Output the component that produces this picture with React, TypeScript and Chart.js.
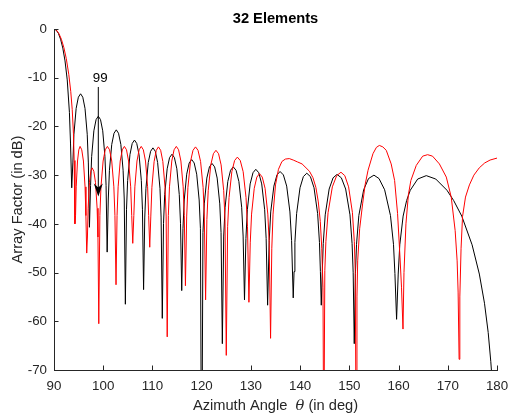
import React, { useEffect, useRef } from "react";
import { Chart, registerables } from "chart.js";

Chart.register(...registerables);

// ---- data ----
const chartTitle = "32 Elements";
const xTitleParts = ["Azimuth Angle  ", "\u03b8", " (in deg)"];
const yTitle = "Array Factor (in dB)";

const xTicks = [90, 100, 110, 120, 130, 140, 150, 160, 170, 180];
const yTicks = [0, -10, -20, -30, -40, -50, -60, -70];

// black series (uniform array): angle (deg) and level (dB)
const blackAngle = [
  90, 90.45, 90.9, 91.34, 91.79, 92.24, 92.69, 93.13, 93.36, 93.6,
  93.83, 94.05, 94.5, 94.95, 95.4, 95.85, 96.3, 96.75, 96.98, 97.2,
  97.43, 97.65, 98.1, 98.55, 99.0, 99.45, 99.9, 100.35, 100.58, 100.8,
  101.03, 101.26, 101.73, 102.19, 102.65, 103.11, 103.58, 104.04, 104.27, 104.5,
  104.73, 104.96, 105.43, 105.89, 106.35, 106.81, 107.28, 107.74, 107.97, 108.2,
  108.44, 108.68, 109.15, 109.63, 110.1, 110.58, 111.05, 111.53, 111.76, 112.0,
  112.25, 112.49, 112.99, 113.48, 113.97, 114.46, 114.96, 115.45, 115.7, 115.95,
  116.2, 116.46, 116.96, 117.47, 117.97, 118.48, 118.99, 119.49, 119.75, 120.0,
  120.26, 120.53, 121.05, 121.58, 122.1, 122.63, 123.15, 123.68, 123.94, 124.2,
  124.48, 124.76, 125.31, 125.87, 126.42, 126.99, 127.56, 128.13, 128.42, 128.7,
  128.99, 129.28, 129.85, 130.43, 131.0, 131.6, 132.2, 132.8, 133.1, 133.4,
  133.72, 134.03, 134.67, 135.3, 135.93, 136.6, 137.27, 137.93, 138.27, 138.6,
  138.77, 138.94, 139.29, 139.98, 140.66, 141.35, 142.09, 142.83, 143.56, 143.93, 144.12, 144.3,
  144.5, 144.7, 145.1, 145.9, 146.7, 147.5, 148.38, 149.25, 150.13, 150.56, 150.78, 151.0,
  151.24, 151.46, 151.93, 152.91, 153.9, 155.0, 156.03, 157.17, 158.36, 158.97, 159.26, 159.6,
  159.93, 160.25, 160.93, 161.64, 162.38, 163.89, 165.63, 167.56, 169.83, 171.19, 172.84,
  174.94, 176.41, 177.46, 178.21, 178.74, 179.3, 180,
];
const blackLevel = [
  0, -0.22, -0.91, -2.11, -3.92, -6.55, -10.45, -17.1, -23.6, -32.6,
  -27.5, -21.6, -16.3, -14.0, -13.3, -14.0, -16.3, -21.6, -27.5, -40.7,
  -32.1, -26.2, -20.9, -18.6, -17.9, -18.6, -20.9, -26.2, -32.1, -45.8,
  -34.9, -29.0, -23.7, -21.4, -20.7, -21.4, -23.7, -29.0, -34.9, -56.5,
  -37.0, -31.1, -25.8, -23.5, -22.8, -23.5, -25.8, -31.1, -37.0, -53.5,
  -38.6, -32.7, -27.4, -25.1, -24.4, -25.1, -27.4, -32.7, -38.6, -59.4,
  -39.9, -34.0, -28.7, -26.4, -25.7, -26.4, -28.7, -34.0, -39.9, -53.7,
  -41.0, -35.1, -29.8, -27.5, -26.8, -27.5, -29.8, -35.1, -41.0, -100,
  -41.8, -35.9, -30.6, -28.3, -27.6, -28.3, -30.6, -35.9, -41.8, -64.6,
  -42.5, -36.6, -31.3, -29.0, -28.3, -29.0, -31.3, -36.6, -42.5, -55.6,
  -43.0, -37.1, -31.8, -29.5, -28.8, -29.5, -31.8, -37.1, -43.0, -56.7,
  -43.45, -37.55, -32.25, -29.95, -29.25, -29.95, -32.25, -37.55, -43.45, -55.2,
  -49.8, -43.8, -37.9, -32.6, -30.3, -29.6, -30.3, -32.6, -37.9, -43.8, -49.8, -56.7,
  -50.05, -44.05, -38.15, -32.85, -30.55, -29.85, -30.55, -32.85, -38.15, -44.05, -50.05, -64.6,
  -50.2, -44.2, -38.3, -33.0, -30.7, -30.0, -30.7, -33.0, -38.3, -44.2, -50.2, -59.6,
  -50.3, -44.3, -38.4, -35.2, -33.1, -30.8, -30.1, -30.8, -33.1, -35.2, -38.4,
  -44.3, -50.3, -56.3, -62.3, -68.3, -76, -100,
];

// red series: angle (deg) and level (dB)
const redAngle = [
  90, 90.5, 91, 91.5, 92, 92.5, 93, 93.4, 93.7, 93.95, 94.1, 94.25,
  94.38, 94.51, 94.78, 95.04, 95.3, 95.64, 95.98, 96.31, 96.48, 96.65,
  96.79, 96.93, 97.2, 97.48, 97.75, 98.09, 98.43, 98.76, 98.93, 99.1,
  99.32, 99.54, 99.98, 100.41, 100.85, 101.29, 101.73, 102.16, 102.38, 102.6,
  102.81, 103.03, 103.45, 103.88, 104.3, 104.73, 105.15, 105.58, 105.79, 106.0,
  106.22, 106.43, 106.86, 107.29, 107.72, 108.15, 108.59, 109.02, 109.23, 109.45,
  109.67, 109.89, 110.34, 110.78, 111.22, 111.67, 112.11, 112.56, 112.78, 113.0,
  113.23, 113.46, 113.93, 114.39, 114.85, 115.31, 115.78, 116.24, 116.47, 116.7,
  116.96, 117.21, 117.73, 118.24, 118.75, 119.26, 119.78, 120.29, 120.54, 120.8,
  121.06, 121.33, 121.85, 122.38, 122.9, 123.43, 123.95, 124.48, 124.74, 125.0,
  125.28, 125.56, 126.13, 126.69, 127.25, 127.84, 128.43, 129.01, 129.31, 129.6,
  129.87, 130.14, 130.68, 131.21, 131.75, 132.31, 132.88, 133.44, 133.72, 134.0,
  134.25, 134.5, 135.0, 135.6, 136.3, 137.0, 137.8, 138.6, 139.5, 140.4, 141.2,
  141.9, 142.6, 143.2, 143.7, 144.1, 144.4, 144.65, 144.8,
  145.02, 145.24, 145.68, 146.55, 147.43, 148.3, 149.08, 149.85, 150.63, 151.01, 151.2, 151.4,
  151.55, 151.7, 152.1, 152.7, 153.2, 153.8, 154.8, 155.5, 156.1, 156.8, 157.5, 158.5,
  159.2, 159.8, 160.3, 160.6, 160.9,
  161.1, 161.5, 162.0, 162.5, 163.6, 164.9, 165.9, 166.9, 168.3, 169.7, 170.7, 171.5,
  171.9, 172.1, 172.3,
  172.45, 172.7, 173.0, 173.6, 174.4, 175.3, 176.4, 177.5, 178.6, 180,
];
const redLevel = [
  0, -0.25, -0.95, -2.1, -3.8, -6.1, -9.3, -12.8, -16.5, -21.5, -27, -40,
  -38.3, -32.4, -27.1, -24.8, -24.1, -24.8, -27.1, -32.4, -38.3, -46,
  -42.7, -36.8, -31.5, -29.2, -28.5, -29.2, -31.5, -36.8, -42.7, -60.5,
  -38.3, -32.4, -27.1, -24.8, -24.1, -24.8, -27.1, -32.4, -38.3, -52.5,
  -38.3, -32.4, -27.1, -24.8, -24.1, -24.8, -27.1, -32.4, -38.3, -44,
  -38.3, -32.4, -27.1, -24.8, -24.1, -24.8, -27.1, -32.4, -38.3, -44.8,
  -38.4, -32.5, -27.2, -24.9, -24.2, -24.9, -27.2, -32.5, -38.4, -63.2,
  -38.3, -32.4, -27.1, -24.8, -24.1, -24.8, -27.1, -32.4, -38.3, -52.7,
  -38.4, -32.5, -27.2, -24.9, -24.2, -24.9, -27.2, -32.5, -38.4, -55.6,
  -39.1, -33.2, -27.9, -25.6, -24.9, -25.6, -27.9, -33.2, -39.1, -67,
  -40.5, -34.6, -29.3, -27.0, -26.3, -27.0, -29.3, -34.6, -40.5, -56.1,
  -43.9, -38.0, -32.7, -30.4, -29.7, -30.4, -32.7, -38.0, -43.9, -63.5,
  -45, -38, -32, -28.8, -27.2, -26.7, -26.6, -26.9, -27.3, -27.7, -28.5,
  -29.2, -30.5, -32.5, -35.5, -39.5, -45, -53, -90,
  -49.6, -43.6, -37.7, -32.4, -30.1, -29.4, -30.1, -32.4, -37.7, -43.6, -49.6, -90,
  -55, -47.6, -41, -35.9, -32, -29.0, -25.6, -24.3, -23.9, -24.2, -24.9, -27.7,
  -31.1, -37.9, -47, -53, -61.6,
  -50, -40, -34, -31.1, -28.0, -26.1, -25.8, -26.1, -27.7, -30.4, -34.5, -41.4,
  -47.6, -54, -67.8,
  -55, -45, -38.5, -34.5, -32.0, -30.0, -28.5, -27.5, -26.9, -26.5,
];

// annotation "99" with a downward arrow
const markerAngle = 99;
const markerTop = -11.9;
const markerTip = -34.4;
const markerText = "99";
const markerTextAngle = 99.4;
const markerTextLevel = -10.2;

const FONT = '"Liberation Sans", Arial, Helvetica, sans-serif';
const AXIS_COLOR = "#262626";

const decorPlugin = {
  id: "decor",
  afterDraw(chart: any) {
    const { ctx, chartArea, scales } = chart;
    const xs = scales.x;
    const ys = scales.y;
    ctx.save();
    // inward ticks
    ctx.strokeStyle = AXIS_COLOR;
    ctx.lineWidth = 1;
    ctx.beginPath();
    for (const v of xTicks) {
      const px = Math.round(xs.getPixelForValue(v)) + 0.5;
      ctx.moveTo(px, chartArea.bottom);
      ctx.lineTo(px, chartArea.bottom - 4.5);
    }
    for (const v of yTicks) {
      const py = Math.round(ys.getPixelForValue(v)) + 0.5;
      ctx.moveTo(chartArea.left, py);
      ctx.lineTo(chartArea.left + 4.5, py);
    }
    ctx.stroke();

    const cx = (chartArea.left + chartArea.right) / 2;
    // title
    ctx.fillStyle = "#000";
    ctx.font = `bold 14.67px ${FONT}`;
    ctx.textAlign = "center";
    ctx.textBaseline = "alphabetic";
    ctx.fillText(chartTitle, cx, 23);

    // x title with italic theta
    ctx.fillStyle = AXIS_COLOR;
    const normal = `14.67px ${FONT}`;
    const italic = `italic 14.67px "DejaVu Serif", "Liberation Serif", serif`;
    const fonts = [normal, italic, normal];
    let total = 0;
    const widths: number[] = [];
    xTitleParts.forEach((p, i) => {
      ctx.font = fonts[i];
      const w = ctx.measureText(p).width;
      widths.push(w);
      total += w;
    });
    let x0 = cx - total / 2;
    ctx.textAlign = "left";
    xTitleParts.forEach((p, i) => {
      ctx.font = fonts[i];
      ctx.fillText(p, x0, 410);
      x0 += widths[i];
    });

    // y title
    ctx.save();
    ctx.translate(18, (chartArea.top + chartArea.bottom) / 2);
    ctx.rotate(-Math.PI / 2);
    ctx.font = normal;
    ctx.textAlign = "center";
    ctx.textBaseline = "middle";
    ctx.fillText(yTitle, 0, 0);
    ctx.restore();

    // annotation arrow
    const ax = xs.getPixelForValue(markerAngle);
    const ay0 = ys.getPixelForValue(markerTop);
    const ay1 = ys.getPixelForValue(markerTip);
    ctx.strokeStyle = "#000";
    ctx.fillStyle = "#000";
    ctx.lineWidth = 1;
    ctx.beginPath();
    ctx.moveTo(ax, ay0);
    ctx.lineTo(ax, ay1 - 8);
    ctx.stroke();
    ctx.beginPath();
    ctx.moveTo(ax, ay1);
    ctx.lineTo(ax - 4.5, ay1 - 13);
    ctx.lineTo(ax, ay1 - 9);
    ctx.lineTo(ax + 4.5, ay1 - 13);
    ctx.closePath();
    ctx.fill();
    ctx.font = `13.33px ${FONT}`;
    ctx.textAlign = "center";
    ctx.textBaseline = "middle";
    ctx.fillText(markerText, xs.getPixelForValue(markerTextAngle), ys.getPixelForValue(markerTextLevel));
    ctx.restore();
  },
};

export default function App() {
  const ref = useRef<HTMLCanvasElement | null>(null);
  useEffect(() => {
    if (!ref.current) return;
    const black = blackAngle.map((x, i) => ({ x, y: blackLevel[i] }));
    const red = redAngle.map((x, i) => ({ x, y: redLevel[i] }));
    const tickFont = { family: FONT, size: 13.33 };
    const chart = new Chart(ref.current, {
      type: "line",
      data: {
        datasets: [
          { data: red, borderColor: "#ff0000", borderWidth: 1, pointRadius: 0, tension: 0, fill: false },
          { data: black, borderColor: "#000000", borderWidth: 1, pointRadius: 0, tension: 0, fill: false },
        ],
      },
      options: {
        animation: false,
        responsive: false,
        maintainAspectRatio: false,
        devicePixelRatio: 1,
        parsing: false,
        normalized: true,
        layout: { padding: { top: 29, right: 11, left: 0, bottom: 0 } },
        plugins: {
          legend: { display: false },
          tooltip: { enabled: false },
          title: { display: false },
        },
        events: [],
        scales: {
          x: {
            type: "linear",
            min: 90,
            max: 180,
            afterFit: (s: any) => {
              s.height = 46;
              s.paddingLeft = 0;
              s.paddingRight = 0;
            },
            afterBuildTicks: (s: any) => {
              s.ticks = xTicks.map((v) => ({ value: v }));
            },
            ticks: { padding: 8, color: AXIS_COLOR, font: tickFont, maxRotation: 0, autoSkip: false },
            grid: { display: false, drawTicks: false },
            border: { display: true, color: AXIS_COLOR, width: 1 },
          },
          y: {
            type: "linear",
            min: -70,
            max: 0,
            afterFit: (s: any) => {
              s.width = 54;
              s.paddingTop = 0;
              s.paddingBottom = 0;
            },
            afterBuildTicks: (s: any) => {
              s.ticks = yTicks.map((v) => ({ value: v }));
            },
            ticks: { padding: 7, color: AXIS_COLOR, font: tickFont, autoSkip: false },
            grid: { display: false, drawTicks: false },
            border: { display: true, color: AXIS_COLOR, width: 1 },
          },
        },
      },
      plugins: [decorPlugin],
    } as any);
    return () => chart.destroy();
  }, []);
  return (
    <div style={{ position: "fixed", left: 0, top: 0, width: 508, height: 416, background: "#fff" }}>
      <canvas ref={ref} width={508} height={416} style={{ width: 508, height: 416, display: "block" }} />
    </div>
  );
}
